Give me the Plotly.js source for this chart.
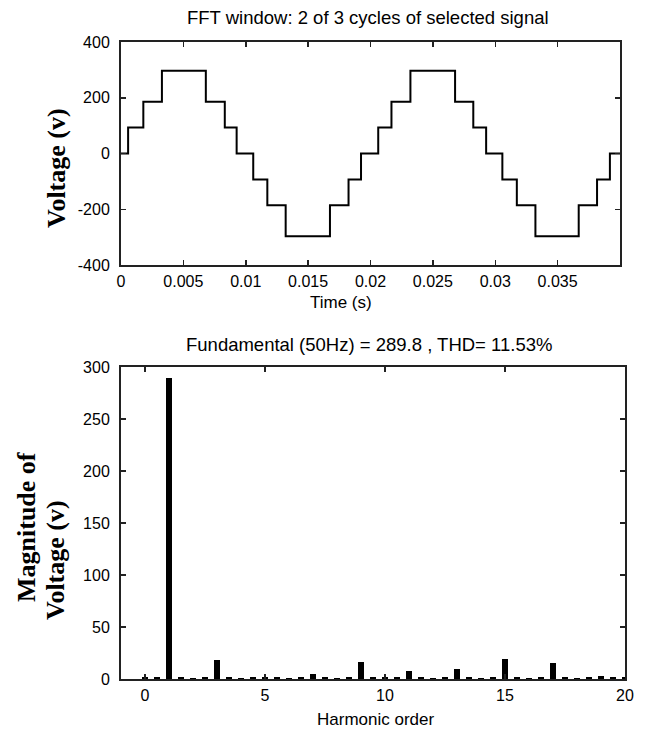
<!DOCTYPE html>
<html>
<head>
<meta charset="utf-8">
<script src="https://cdn.plot.ly/plotly-3.0.1.min.js"></script>
<style>
html,body{margin:0;padding:0;background:#fff;}
#chart{width:648px;height:731px;}
</style>
</head>
<body>
<div id="chart"></div>
<script>
// ---- Top plot: stepped voltage waveform (time of each step, level after step) ----
var stepTime = [0, 0.00057, 0.00179, 0.00328, 0.00680, 0.00832, 0.00927,
                0.01060, 0.01173, 0.01320, 0.01675, 0.01824, 0.01924,
                0.02062, 0.02168, 0.02320, 0.02678, 0.02824, 0.02927,
                0.03057, 0.03173, 0.03322, 0.03669, 0.03816, 0.03919, 0.04];
var stepVoltage = [0, 93, 186, 297, 186, 93, 0,
                   -93, -186, -297, -186, -93, 0,
                   93, 186, 297, 186, 93, 0,
                   -93, -186, -297, -186, -93, 0, 0];
var timeTicks = [0, 0.005, 0.01, 0.015, 0.02, 0.025, 0.03, 0.035];
var timeTickLabels = ["0", "0.005", "0.01", "0.015", "0.02", "0.025", "0.03", "0.035"];
var voltTicks = [-400, -200, 0, 200, 400];

// ---- Bottom plot: harmonic spectrum (orders in 0.5 steps) ----
var harmonicOrder = [0, 0.5, 1, 1.5, 2, 2.5, 3, 3.5, 4, 4.5, 5, 5.5, 6, 6.5, 7, 7.5,
                     8, 8.5, 9, 9.5, 10, 10.5, 11, 11.5, 12, 12.5, 13, 13.5, 14, 14.5,
                     15, 15.5, 16, 16.5, 17, 17.5, 18, 18.5, 19, 19.5, 20];
var harmonicMag = [1.5, 1.5, 289.8, 1.5, 1.2, 1.5, 18.3, 1.5, 1.2, 1.5, 2.0, 1.5, 1.2, 1.5, 4.5, 1.5,
                   1.2, 1.5, 16.7, 1.5, 1.5, 1.5, 8.0, 1.5, 1.2, 1.5, 9.5, 1.5, 1.2, 1.5,
                   19.5, 1.5, 1.2, 1.5, 15.5, 1.5, 1.2, 1.5, 3.0, 1.5, 1.5];
var orderTicks = [0, 5, 10, 15, 20];
var magTicks = [0, 50, 100, 150, 200, 250, 300];

var topTitle = "FFT window: 2 of 3 cycles of selected signal";
var bottomTitle = "Fundamental (50Hz) = 289.8 , THD= 11.53%";

var sansFamily = "Liberation Sans, Arial, sans-serif";
var tickFont = {family: sansFamily, size: 16, color: "#000"};
var titleFont = {family: sansFamily, size: 17, color: "#000"};
var headFont = {family: sansFamily, size: 18.5, color: "#000"};
var serifFont = {family: "Liberation Serif, Times New Roman, serif", size: 26, color: "#000"};

function frameAxis(extra) {
  var a = {
    showline: true, mirror: "ticks", linecolor: "#222", linewidth: 2,
    ticks: "inside", ticklen: 5, tickwidth: 1.5, tickcolor: "#222",
    showgrid: false, zeroline: false, tickfont: tickFont,
    tickmode: "array", fixedrange: true
  };
  for (var k in extra) a[k] = extra[k];
  return a;
}

var traces = [
  {
    x: stepTime, y: stepVoltage, type: "scatter", mode: "lines",
    line: {shape: "hv", color: "#000", width: 2},
    xaxis: "x2", yaxis: "y2", hoverinfo: "skip"
  },
  {
    x: harmonicOrder, y: harmonicMag, type: "bar",
    marker: {color: "#000", line: {width: 0}}, width: 0.25,
    xaxis: "x", yaxis: "y", hoverinfo: "skip"
  }
];

var px = function (p) { return (p - 121) / 504; };
var py = function (p) { return (679 - p) / 637; };

var layout = {
  width: 648, height: 731,
  margin: {l: 121, r: 23, t: 42, b: 52},
  paper_bgcolor: "#fff", plot_bgcolor: "#fff",
  showlegend: false,
  bargap: 0,
  xaxis: frameAxis({domain: [0, 1], range: [-1, 20], anchor: "y",
    tickvals: orderTicks, ticktext: orderTicks.map(String), ticklabelstandoff: 1}),
  yaxis: frameAxis({domain: [0, py(367)], range: [0, 300], anchor: "x",
    tickvals: magTicks, ticktext: magTicks.map(String), ticklabelstandoff: 6}),
  xaxis2: frameAxis({domain: [0, px(620)], range: [0, 0.04], anchor: "y2",
    tickvals: timeTicks, ticktext: timeTickLabels, ticklabelstandoff: 1}),
  yaxis2: frameAxis({domain: [py(265), 1], range: [-400, 400], anchor: "x2",
    tickvals: voltTicks, ticktext: voltTicks.map(String), ticklabelstandoff: 6}),
  annotations: [
    {text: topTitle, xref: "paper", yref: "paper", x: px(368), y: py(18),
     xanchor: "center", yanchor: "middle", showarrow: false, font: headFont},
    {text: bottomTitle, xref: "paper", yref: "paper", x: px(369), y: py(344),
     xanchor: "center", yanchor: "middle", showarrow: false, font: headFont},
    {text: "Time (s)", xref: "paper", yref: "paper", x: px(341), y: py(302),
     xanchor: "center", yanchor: "middle", showarrow: false, font: titleFont},
    {text: "Harmonic order", xref: "paper", yref: "paper", x: px(375), y: py(719),
     xanchor: "center", yanchor: "middle", showarrow: false, font: titleFont},
    {text: "<b>Voltage (v)</b>", xref: "paper", yref: "paper", x: px(57), y: py(168),
     xanchor: "center", yanchor: "middle", textangle: -90, showarrow: false, font: serifFont},
    {text: "<b>Magnitude of</b>", xref: "paper", yref: "paper", x: px(26), y: py(527),
     xanchor: "center", yanchor: "middle", textangle: -90, showarrow: false, font: serifFont},
    {text: "<b>Voltage (v)</b>", xref: "paper", yref: "paper", x: px(55), y: py(560),
     xanchor: "center", yanchor: "middle", textangle: -90, showarrow: false, font: serifFont}
  ]
};

Plotly.newPlot("chart", traces, layout, {displayModeBar: false, staticPlot: true});
</script>
</body>
</html>
